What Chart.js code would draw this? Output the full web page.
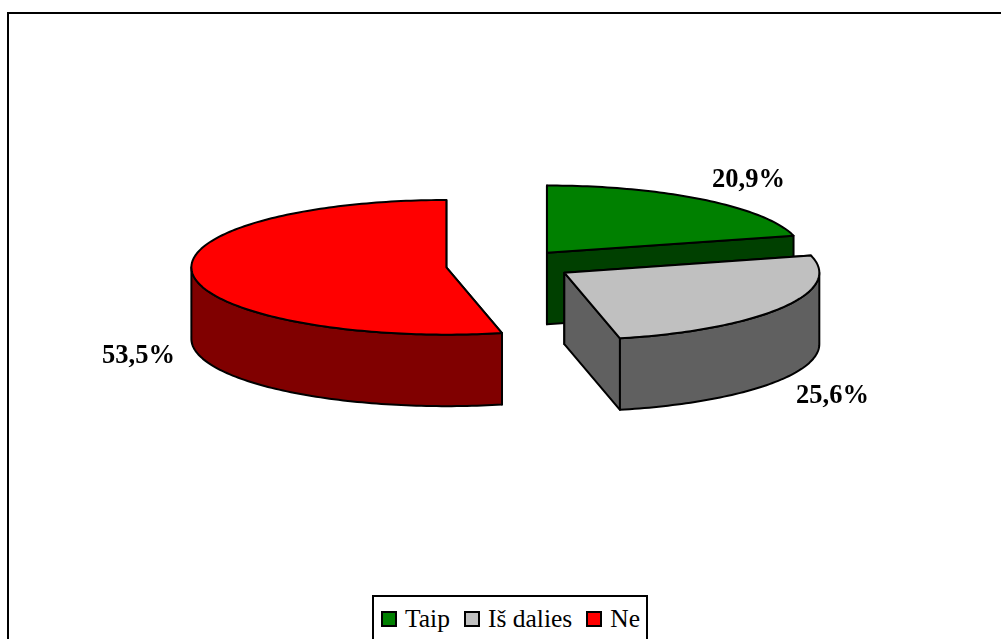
<!DOCTYPE html>
<html>
<head>
<meta charset="utf-8">
<style>
    html, body { margin: 0; padding: 0; background: #fff; overflow: hidden; }
    #wrap { width: 1001px; height: 639px; position: relative; }
    #legend {
        position: absolute; left: 372px; top: 595px; width: 276px; height: 50px;
        box-sizing: border-box; border: 2px solid #000; background: #fff;
        display: flex; align-items: flex-start; padding: 12px 0 0 7px;
        font: 25.5px "Liberation Serif"; line-height: 20px; color: #000; white-space: nowrap;
    }
    #legend .box { width: 12px; height: 12px; border: 2px solid #000; margin: 2px 8px 0 0; flex: none; }
    #legend .txt { margin-right: 14px; }
</style>
<script src="https://cdn.jsdelivr.net/npm/chart.js@4/dist/chart.umd.js"></script>
</head>
<body>
<div id="wrap">
    <canvas id="pie" width="1001" height="639"></canvas>
    <div id="legend"></div>
</div>
<script>
// ===== DATA =====
const categories = ["Taip", "Iš dalies", "Ne"];
const shares = [20.9, 25.6, 53.5];
const topColors = ["#008000", "#C0C0C0", "#FF0000"];
const sideColors = ["#004000", "#606060", "#800000"];

// ===== 3D LOOK =====
const SQUASH = 0.264;   // ellipse height / width
const DEPTH = 71.5;     // wall height in px
const EXPLODE = 63;     // how far slices are pulled from centre
const RADIUS = 255;
const CENTER_Y = 266;
const nudge = [[0, 0], [2, -2], [0.5, -0.5]];  // the original is drawn in perspective, small per-slice fix
const labelPos = [[748.5, 180], [832.5, 396], [138.5, 356]];

function shiftOf(arc, i) {
    const mid = (arc.startAngle + arc.endAngle) / 2;
    return {
        x: Math.cos(mid) * EXPLODE + nudge[i][0],
        y: Math.sin(mid) * EXPLODE * SQUASH + nudge[i][1]
    };
}

function tracePoly(ctx, pts) {
    ctx.beginPath();
    pts.forEach((p, i) => i ? ctx.lineTo(p.x, p.y) : ctx.moveTo(p.x, p.y));
    ctx.closePath();
}

function drawSlice(ctx, arc, i) {
    const start = arc.startAngle, end = arc.endAngle, r = arc.outerRadius;
    const s = shiftOf(arc, i);

    // arc point in screen coords, dz moves it down the wall
    const rimPoint = (angle, rad, dz) => ({
        x: arc.x + s.x + Math.cos(angle) * rad,
        y: CENTER_Y + s.y + Math.sin(angle) * rad * SQUASH + dz
    });
    const rimPoints = (from, to, dz) => {
        const pts = [];
        const steps = Math.max(2, Math.ceil(Math.abs(to - from) / 0.02));
        for (let k = 0; k <= steps; k++) {
            pts.push(rimPoint(from + (to - from) * k / steps, r, dz));
        }
        return pts;
    };

    const apex = rimPoint(start, 0, 0);
    const apexLow = rimPoint(start, 0, DEPTH);

    ctx.lineWidth = 2;
    ctx.strokeStyle = "#000";
    ctx.lineJoin = "round";
    ctx.fillStyle = sideColors[i];

    // cut faces
    [start, end].forEach(a => {
        tracePoly(ctx, [apex, rimPoint(a, r, 0), rimPoint(a, r, DEPTH), apexLow]);
        ctx.fill();
        ctx.stroke();
    });

    // outer wall, only the part that faces the viewer
    const wallFrom = Math.max(start, 0), wallTo = Math.min(end, Math.PI);
    if (wallTo > wallFrom) {
        tracePoly(ctx, rimPoints(wallFrom, wallTo, 0).concat(rimPoints(wallTo, wallFrom, DEPTH)));
        ctx.fill();
        ctx.stroke();
    }

    // top face through the library's own arc element
    ctx.save();
    ctx.translate(arc.x + s.x, CENTER_Y + s.y);
    ctx.scale(1, SQUASH);
    ctx.translate(-arc.x, -arc.y);
    arc.draw(ctx);
    ctx.restore();

    tracePoly(ctx, [apex].concat(rimPoints(start, end, 0)));
    ctx.stroke();
}

const pie3d = {
    id: "pie3d",
    beforeDatasetDraw(chart, args) {
        const ctx = chart.ctx;
        const arcs = chart.getDatasetMeta(args.index).data;
        arcs.forEach((arc, i) => drawSlice(ctx, arc, i));

        ctx.fillStyle = "#000";
        ctx.font = "bold 26.5px 'Liberation Serif'";
        ctx.textAlign = "center";
        ctx.textBaseline = "middle";
        shares.forEach((v, i) => {
            ctx.fillText(v.toFixed(1).replace(".", ",") + "%", labelPos[i][0], labelPos[i][1]);
        });
        return false;
    },
    beforeDraw(chart) {
        // outer frame runs off the right and bottom of the picture
        const ctx = chart.ctx;
        ctx.save();
        ctx.strokeStyle = "#000";
        ctx.lineWidth = 2;
        ctx.beginPath();
        ctx.moveTo(8, 639);
        ctx.lineTo(8, 13);
        ctx.lineTo(1001, 13);
        ctx.stroke();
        ctx.restore();
    }
};

new Chart(document.getElementById("pie"), {
    type: "pie",
    data: {
        labels: categories,
        datasets: [{
            data: shares,
            backgroundColor: topColors,
            borderWidth: 0
        }]
    },
    options: {
        responsive: false,
        animation: false,
        radius: RADIUS,
        layout: { padding: { left: 16 } },
        plugins: {
            tooltip: { enabled: false },
            legend: { display: false }
        }
    },
    plugins: [pie3d]
});

// ===== LEGEND =====
document.getElementById("legend").innerHTML = categories.map((c, i) =>
    `<span class="box" style="background:${topColors[i]}"></span><span class="txt">${c}</span>`
).join("");
</script>
</body>
</html>
